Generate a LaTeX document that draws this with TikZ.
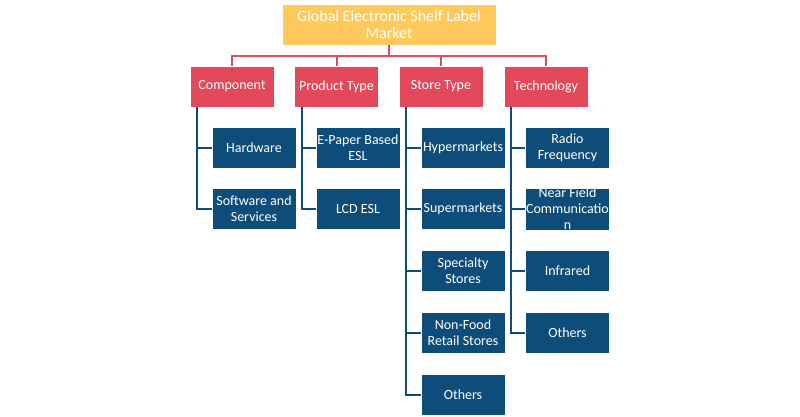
\documentclass[tikz,border=0pt]{standalone}
\usepackage{fontspec}
\setmainfont{Carlito}
\usetikzlibrary{positioning}
\definecolor{eslyellow}{HTML}{FFC95C}
\definecolor{eslred}{HTML}{E2495B}
\definecolor{eslblue}{HTML}{0E4D7A}
\tikzset{
  title node/.style={
    fill=eslyellow, draw=white, line width=0.6pt, text=white, align=center,
    minimum width=214pt, minimum height=41pt, inner sep=0pt,
    font=\fontsize{16}{17}\selectfont
  },
  segment node/.style={
    fill=eslred, draw=white, line width=0.6pt, text=white, align=center,
    minimum width=84pt, minimum height=41pt, inner sep=0pt,
    font=\fontsize{14}{16}\selectfont
  },
  item node/.style={
    fill=eslblue, draw=white, line width=0.6pt, text=white, align=center,
    minimum width=84pt, minimum height=41pt, inner sep=0pt,
    font=\fontsize{14}{16}\selectfont
  },
  red link/.style={draw=eslred, line width=2pt},
  blue link/.style={draw=eslblue, line width=2pt}
}

\begin{document}
\begin{tikzpicture}[x=1pt, y=-1pt]
    \useasboundingbox (0,0) rectangle (800,416);
    \draw (389,24.5) node[title node] (market) {Global Electronic Shelf Label\\Market};
    \draw (232,86.5) node[segment node] (comp) {Component};
    \draw (336.5,86.5) node[segment node] (prod) {Product Type};
    \draw (441,86.5) node[segment node] (store) {Store Type};
    \draw (546,86.5) node[segment node] (tech) {Technology};
    % component
    \draw (254,147.5) node[item node] (hw) {Hardware};
    \draw (254,209) node[item node] (sw) {Software and\\Services};
    % product type
    \draw (358,147.5) node[item node] (epaper) {E-Paper Based\\ESL};
    \draw (358,209) node[item node] (lcd) {LCD ESL};
    % store type
    \draw (463,147.5) node[item node] (hyper) {Hypermarkets};
    \draw (463,209) node[item node] (super) {Supermarkets};
    \draw (463,271) node[item node] (special) {Specialty\\Stores};
    \draw (463,332.5) node[item node] (nonfood) {Non-Food\\Retail Stores};
    \draw (463,394.5) node[item node] (sothers) {Others};
    % technology
    \draw (567.5,147.5) node[item node] (radio) {Radio\\Frequency};
    \draw (567.5,209) node[item node] (nfc) {Near Field\\Communicatio\\n};
    \draw (567.5,271) node[item node] (infra) {Infrared};
    \draw (567.5,332.5) node[item node] (tothers) {Others};
    % links
    \draw[red link] (market.south) -- ++(0,10.5) -| (comp.north);
    \draw[red link] (market.south) -- ++(0,10.5) -| (prod.north);
    \draw[red link] (market.south) -- ++(0,10.5) -| (store.north);
    \draw[red link] (market.south) -- ++(0,10.5) -| (tech.north);
    \draw[blue link] ([xshift=7.5pt]comp.south west) |- (hw.west);
    \draw[blue link] ([xshift=7.5pt]comp.south west) |- (sw.west);
    \draw[blue link] ([xshift=7.5pt]prod.south west) |- (epaper.west);
    \draw[blue link] ([xshift=7.5pt]prod.south west) |- (lcd.west);
    \draw[blue link] ([xshift=7.5pt]store.south west) |- (hyper.west);
    \draw[blue link] ([xshift=7.5pt]store.south west) |- (super.west);
    \draw[blue link] ([xshift=7.5pt]store.south west) |- (special.west);
    \draw[blue link] ([xshift=7.5pt]store.south west) |- (nonfood.west);
    \draw[blue link] ([xshift=7.5pt]store.south west) |- (sothers.west);
    \draw[blue link] ([xshift=7.5pt]tech.south west) |- (radio.west);
    \draw[blue link] ([xshift=7.5pt]tech.south west) |- (nfc.west);
    \draw[blue link] ([xshift=7.5pt]tech.south west) |- (infra.west);
    \draw[blue link] ([xshift=7.5pt]tech.south west) |- (tothers.west);
\end{tikzpicture}
\end{document}
